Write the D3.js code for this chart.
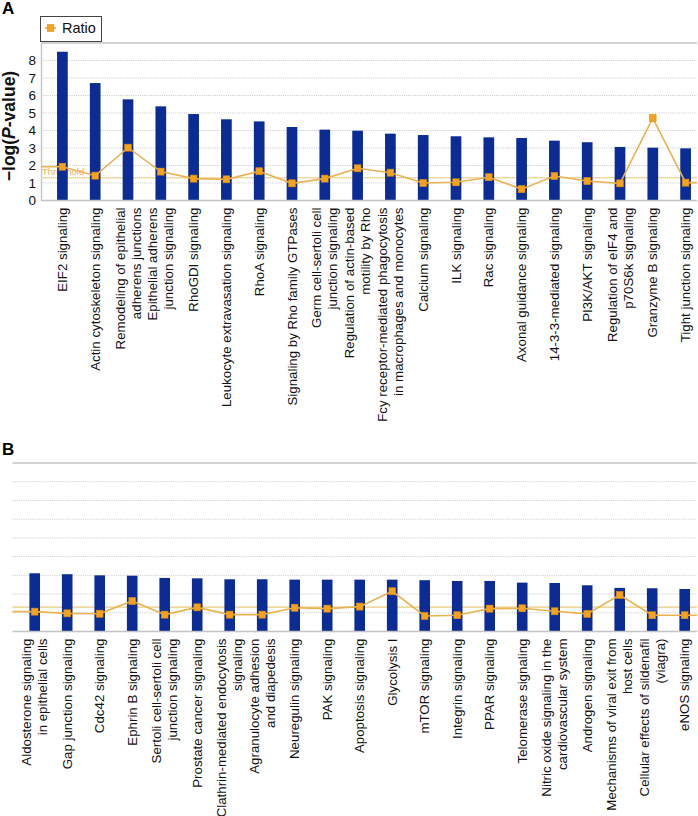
<!DOCTYPE html>
<html>
<head>
<meta charset="utf-8">
<script src="https://cdn.jsdelivr.net/npm/d3@7/dist/d3.min.js"></script>
<style>
  html, body { margin: 0; padding: 0; background: #fff; }
  svg { display: block; font-family: "Liberation Sans", Arial, sans-serif; }
</style>
</head>
<body>
<svg id="chart" width="698" height="816"></svg>
<script>
// ---------- DATA ----------
const categoriesA = [
  "EIF2 signaling",
  "Actin cytoskeleton signaling",
  "Remodeling of epithelial\nadherens junctions",
  "Epithelial adherens\njunction signaling",
  "RhoGDI signaling",
  "Leukocyte extravasation signaling",
  "RhoA signaling",
  "Signaling by Rho family GTPases",
  "Germ cell-sertoli cell\njunction signaling",
  "Regulation of actin-based\nmotility by Rho",
  "Fcy receptor-mediated phagocytosis\nin macrophages and monocytes",
  "Calcium signaling",
  "ILK signaling",
  "Rac signaling",
  "Axonal guidance signaling",
  "14-3-3-mediated signaling",
  "PI3K/AKT signaling",
  "Regulation of eIF4 and\np70S6k signaling",
  "Granzyme B signaling",
  "Tight junction signaling"
];
const pvalA = [8.50, 6.71, 5.78, 5.38, 4.94, 4.64, 4.52, 4.20, 4.05, 3.99,
               3.82, 3.74, 3.67, 3.61, 3.57, 3.42, 3.33, 3.06, 3.02, 2.98];
const ratioA = [1.93, 1.42, 3.02, 1.65, 1.25, 1.21, 1.67, 0.98, 1.25, 1.84,
                1.59, 1.00, 1.04, 1.33, 0.65, 1.40, 1.11, 0.98, 4.71, 1.02];

const categoriesB = [
  "Aldosterone signaling\nin epithelial cells",
  "Gap junction signaling",
  "Cdc42 signaling",
  "Ephrin B signaling",
  "Sertoli cell-sertoli cell\njunction signaling",
  "Prostate cancer signaling",
  "Clathrin-mediated endocytosis\nsignaling",
  "Agranulocyte adhesion\nand diapedesis",
  "Neuregulin signaling",
  "PAK signaling",
  "Apoptosis signaling",
  "Glycolysis I",
  "mTOR signaling",
  "Integrin signaling",
  "PPAR signaling",
  "Telomerase signaling",
  "Nitric oxide signaling in the\ncardiovascular system",
  "Androgen signaling",
  "Mechanisms of viral exit from\nhost cells",
  "Cellular effects of sildenafil\n(viagra)",
  "eNOS signaling"
];
const pvalB = [3.11, 3.06, 3.00, 2.98, 2.86, 2.84, 2.79, 2.79, 2.77, 2.77,
               2.77, 2.77, 2.74, 2.70, 2.70, 2.61, 2.59, 2.47, 2.33, 2.31, 2.27];
const ratioB = [1.06, 0.97, 0.95, 1.63, 0.90, 1.29, 0.90, 0.90, 1.27, 1.22,
                1.33, 2.15, 0.83, 0.87, 1.22, 1.24, 1.08, 0.94, 1.95, 0.87, 0.87];

const yTicks = [0, 1, 2, 3, 4, 5, 6, 7, 8];
const threshold = 1.3;
const yMax = 9;

// ---------- STYLE ----------
const BAR = "#0b2b95";
const LINE = "#e8b453";
const MARK = "#f5a21c";
const MARK_STROKE = "#e48e0c";
const THR = "#f1d9a2";
const GRID = "#c8c8c8";
const FRAME = "#c4c4c4";

const svg = d3.select("#chart");

function panel(cfg) {
  const { cats, pv, ratio, left, right, top, bottom, bandRange, showAxis } = cfg;
  const g = svg.append("g");
  const y = d3.scaleLinear().domain([0, yMax]).range([bottom, top]);
  const x = d3.scaleBand().domain(d3.range(cats.length))
    .range(bandRange).paddingInner(0.674).paddingOuter(0.337);
  const cx = i => x(i) + x.bandwidth() / 2;

  // gridlines (dotted)
  g.append("g").selectAll("line").data(yTicks.filter(t => t > 0)).join("line")
    .attr("x1", left).attr("x2", right)
    .attr("y1", d => y(d)).attr("y2", d => y(d))
    .attr("stroke", GRID).attr("stroke-width", 1).attr("stroke-dasharray", "1,1.2");

  // top frame line
  g.append("line").attr("x1", left).attr("x2", right)
    .attr("y1", y(yMax)).attr("y2", y(yMax))
    .attr("stroke", FRAME).attr("stroke-width", 1.6);

  // y axis
  if (showAxis) {
    const ax = g.append("g").attr("transform", `translate(${left},0)`)
      .call(d3.axisLeft(y).tickValues(yTicks).tickSize(0).tickPadding(5));
    ax.select(".domain").attr("stroke", FRAME).attr("stroke-width", 1.4);
    ax.selectAll("text").attr("font-size", 13.5).attr("fill", "#111")
      .attr("font-family", "Liberation Sans, Arial, sans-serif");
  }

  // threshold line
  g.append("line").attr("x1", left).attr("x2", right)
    .attr("y1", y(threshold)).attr("y2", y(threshold))
    .attr("stroke", THR).attr("stroke-width", 1.6);

  if (showAxis) {
    g.append("text").attr("x", left + 1).attr("y", y(threshold) - 3)
      .attr("font-size", 9.5).attr("fill", "#e8b453").text("Threshold");
  }

  // bars
  g.append("g").selectAll("rect").data(pv).join("rect")
    .attr("x", (d, i) => x(i)).attr("width", x.bandwidth())
    .attr("y", d => y(d)).attr("height", d => y(0) - y(d))
    .attr("fill", BAR);

  // x axis line
  g.append("line").attr("x1", left).attr("x2", right)
    .attr("y1", y(0)).attr("y2", y(0))
    .attr("stroke", FRAME).attr("stroke-width", 1.6);

  // ratio line, extended to plot edges
  const pts = ratio.map((d, i) => [cx(i), y(d)]);
  const full = [[left, y(ratio[0])], ...pts, [right, y(ratio[ratio.length - 1])]];
  g.append("path").attr("d", d3.line()(full))
    .attr("fill", "none").attr("stroke", LINE).attr("stroke-width", 1.6);
  g.append("g").selectAll("rect").data(pts).join("rect")
    .attr("x", d => d[0] - 3.3).attr("y", d => d[1] - 3.5)
    .attr("width", 6.6).attr("height", 7)
    .attr("fill", MARK).attr("stroke", MARK_STROKE).attr("stroke-width", 0.6);

  // category labels
  const lh = 16;
  const lab = g.append("g").selectAll("text").data(cats).join("text")
    .attr("transform", (d, i) => `translate(${cx(i)},${y(0) + 7}) rotate(-90)`)
    .attr("text-anchor", "end").attr("font-size", 13.3).attr("fill", "#111");
  lab.each(function(d) {
    const lines = d.split("\n");
    const n = lines.length;
    d3.select(this).selectAll("tspan").data(lines).join("tspan")
      .attr("x", 0)
      .attr("y", (l, k) => (k - (n - 1) / 2) * lh + 4.6)
      .text(l => l);
  });
}

// Panel A
panel({
  cats: categoriesA, pv: pvalA, ratio: ratioA,
  left: 41, right: 697, top: 43, bottom: 200.5,
  bandRange: [46, 702], showAxis: true
});

// Panel B
panel({
  cats: categoriesB, pv: pvalB, ratio: ratioB,
  left: 12.5, right: 697, top: 463, bottom: 631.5,
  bandRange: [18.45, 700.95], showAxis: false
});

// Panel letters
svg.append("text").attr("x", 2).attr("y", 14).attr("font-size", 17)
  .attr("font-weight", "bold").text("A");
svg.append("text").attr("x", 2).attr("y", 455).attr("font-size", 17)
  .attr("font-weight", "bold").text("B");

// Y-axis title
const yt = svg.append("text")
  .attr("transform", "translate(15,126) rotate(-90)")
  .attr("text-anchor", "middle").attr("font-size", 17.5).attr("font-weight", "bold")
  .attr("fill", "#111");
yt.append("tspan").text("\u2212log(");
yt.append("tspan").attr("font-style", "italic").text("P");
yt.append("tspan").text("-value)");

// Legend
const lg = svg.append("g");
lg.append("rect").attr("x", 40.5).attr("y", 16.5).attr("width", 61).attr("height", 25)
  .attr("fill", "#fff").attr("stroke", "#444").attr("stroke-width", 1);
lg.append("line").attr("x1", 45).attr("x2", 56).attr("y1", 28).attr("y2", 28)
  .attr("stroke", LINE).attr("stroke-width", 1.8);
lg.append("rect").attr("x", 47.3).attr("y", 24.5).attr("width", 6.5).attr("height", 7)
  .attr("fill", MARK).attr("stroke", MARK_STROKE).attr("stroke-width", 0.6);
lg.append("text").attr("x", 62).attr("y", 33).attr("font-size", 14.5)
  .attr("fill", "#111").text("Ratio");
</script>
</body>
</html>
